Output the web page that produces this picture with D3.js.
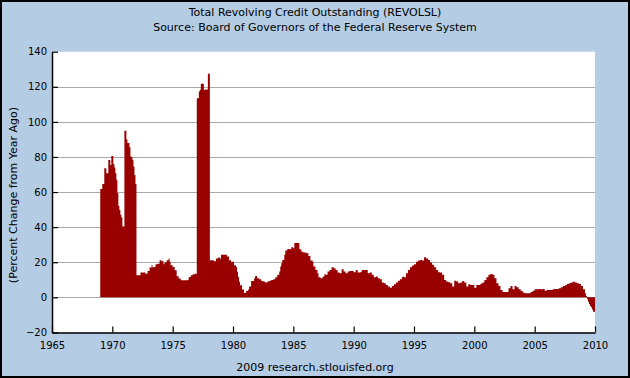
<!DOCTYPE html>
<html><head><meta charset="utf-8">
<script src="https://cdn.jsdelivr.net/npm/d3@7/dist/d3.min.js"></script>
<style>
html,body{margin:0;padding:0;background:#fff;}
svg{display:block;}
text{font-family:"DejaVu Sans",Verdana,sans-serif;fill:#000;}
</style>
</head><body>
<svg id="chart" width="630" height="378"></svg>
<script>
const titleLines = ["Total Revolving Credit Outstanding (REVOLSL)", "Source: Board of Governors of the Federal Reserve System"];
const yAxisTitle = "(Percent Change from Year Ago)";
const footerText = "2009 research.stlouisfed.org";
const yTicks = [-20, 0, 20, 40, 60, 80, 100, 120, 140];
const xTicks = [1965, 1970, 1975, 1980, 1985, 1990, 1995, 2000, 2005, 2010];
const startYear = 1969; // first monthly observation, January 1969

// Monthly percent change from year ago
const values1969to1976 = [
  61.7, 61.7, 64.6, 64.6, 73.5, 73.5, 70.7, 70.7, 78.3, 78.3, 75.4, 80.6,
  80.6, 76, 74, 70.7, 67, 59.3, 52, 49.8, 47, 45.5, 40.3, 40.3,
  95, 95, 90, 88, 88, 85.5, 80.2, 80, 78.3, 74.5, 69.7, 64.6,
  12.6, 12.6, 12.6, 12.6, 14.1, 14.1, 14.1, 14.1, 14.1, 13.5, 13.5, 15,
  15, 17, 17, 18.3, 17, 17.3, 17.3, 18.9, 18.9, 19.2, 19.2, 21.1,
  21.1, 20.6, 20.6, 18.9, 20, 20, 21.1, 21.1, 22.1, 20.2, 18.3, 18.3,
  17.3, 17.3, 15.4, 15.4, 12, 12, 10.7, 10.7, 9.7, 9.7, 9.7, 9.7,
  9.7, 9.7, 9.7, 10, 11.6, 11.6, 12.6, 12.6, 13.1, 13.1, 13.5, 13.5
];
const values1977to1984 = [
  113.5, 113.5, 117.3, 118.3, 121.7, 121.7, 121.7, 118.3, 118.3, 118.5, 118.5, 127.4,
  127.4, 21.1, 21.1, 21.1, 21.1, 20.6, 20.6, 22.1, 22.1, 22.7, 22.7, 22,
  24.2, 24.2, 24.2, 24.2, 24.2, 24.2, 23.2, 23.2, 21.1, 21.1, 20.2, 20.2,
  20.2, 18.3, 18.3, 17.3, 14.5, 11.6, 8.8, 6.9, 6.9, 4.4, 4.4, 2.5,
  2.5, 3.6, 3.6, 4.4, 6.1, 6.1, 9.3, 9.3, 9.3, 10.9, 12.2, 12.2,
  10.9, 10.9, 10.3, 10.3, 9.3, 9.3, 9.0, 9.0, 8.4, 8.4, 9.0, 9.0,
  9.5, 9.5, 9.9, 9.9, 10.3, 10.3, 11.4, 11.4, 12.8, 12.8, 14.7, 17.5,
  19.4, 21.3, 21.3, 24.2, 26.7, 26.7, 27.6, 27.6, 27.4, 27.4, 28.6, 28.6
];
const values1985to1992 = [
  28, 30.9, 30.9, 30.9, 30.9, 30.9, 27.4, 27.4, 25.9, 25.9, 25.5, 25.5,
  25.5, 25.1, 25.1, 23.6, 23.6, 21, 21, 20.4, 17.5, 17.5, 15.6, 15.6,
  13.7, 11.4, 11.4, 10.9, 10.9, 11.4, 12.2, 13.3, 12.8, 12.8, 14.7, 14.7,
  15.6, 15.6, 17.1, 17.1, 16.6, 16.6, 15.6, 15.6, 14.1, 14.1, 13.7, 13.7,
  16, 16, 14.7, 14.7, 13.7, 13.7, 14.7, 14.7, 15, 15, 15, 15,
  14.3, 14.3, 15.6, 15.6, 14.1, 14.1, 14.3, 14.3, 15.6, 15.6, 15.6, 15.6,
  15.6, 15.6, 13.7, 13.7, 14.1, 14.1, 12.8, 12.8, 11.4, 11.4, 11.8, 11.8,
  10.9, 10.9, 10.3, 10.3, 8.4, 8.4, 8, 8, 7, 7, 6.1, 6.1
];
const values1993to2000 = [
  5.5, 5.5, 6.5, 6.5, 7.4, 7.4, 8.4, 8.4, 9.5, 9.5, 10.3, 10.3,
  11.4, 11.8, 11.4, 11.4, 13.7, 13.7, 15.6, 15.6, 17.1, 17.1, 18.1, 18.1,
  18.9, 18.9, 20.2, 20.2, 21, 21, 21.3, 21.3, 21, 21, 22.9, 22.9,
  22.1, 22.1, 21.3, 21.3, 19.8, 19.8, 18.5, 18.5, 17.1, 17.1, 15.6, 15.6,
  14.3, 14.3, 14.1, 14.1, 12.8, 12.8, 9.9, 9.9, 9.0, 9.0, 8.6, 8.6,
  8, 8, 6.1, 6.1, 9.5, 9.5, 9.0, 9.0, 8, 8, 8.4, 8.4,
  9.3, 9.3, 8.4, 8.4, 6.1, 6.1, 7.4, 7.4, 7.0, 7.0, 7.0, 7.0,
  5.5, 5.5, 7, 7, 7, 7, 7.8, 7.8, 8.4, 8.4, 9.9, 9.9
];
const values2001to2009 = [
  11.4, 11.4, 12.8, 12.8, 13.3, 13.3, 12.8, 12.8, 10.9, 10.9, 8, 8,
  6.5, 6.5, 4.2, 4.2, 3, 3, 3, 3, 3, 3, 5.1, 5.1,
  6.5, 6.5, 4.6, 4.6, 6.5, 6.5, 5.7, 5.7, 4.6, 4.6, 3.8, 3.8,
  2.7, 2.7, 2.3, 2.3, 2.3, 2.3, 2.3, 2.3, 3, 3, 3.8, 3.8,
  4.6, 4.6, 4.6, 4.6, 4.8, 4.8, 4.6, 4.6, 4.8, 4.8, 3.8, 3.8,
  4.2, 4.2, 4.2, 4.2, 4.2, 4.2, 4.6, 4.6, 4.8, 4.8, 4.8, 4.8,
  5.1, 5.1, 5.7, 5.7, 6.5, 6.5, 6.9, 6.9, 7.6, 7.6, 8, 8,
  8.4, 8.4, 8.8, 8.8, 8.4, 8.4, 8, 8, 7.6, 7.6, 6.5, 6.5,
  4.6, 4.6, 2.3, 0.8, -1.1, -2.5, -3.8, -5, -5.7, -6.9, -8.2, -8.2
];

const values = [].concat(values1969to1976, values1977to1984, values1985to1992, values1993to2000, values2001to2009);
const data = values.map((v, i) => ({t: startYear + i / 12, v}));

const W = 630, H = 378;
const plot = {left: 52, right: 595, top: 51.7, bottom: 332.4};
const svg = d3.select("#chart");

svg.append("rect").attr("x", 0).attr("y", 0).attr("width", W).attr("height", H).attr("fill", "#b4cce4");
svg.append("rect").attr("x", 1).attr("y", 1).attr("width", W - 2).attr("height", H - 2)
  .attr("fill", "none").attr("stroke", "#000").attr("stroke-width", 2);

const x = d3.scaleLinear().domain([xTicks[0], xTicks[xTicks.length - 1]]).range([plot.left, plot.right]);
const y = d3.scaleLinear().domain([yTicks[0], yTicks[yTicks.length - 1]]).range([plot.bottom, plot.top]);

svg.append("rect").attr("x", plot.left).attr("y", plot.top)
  .attr("width", plot.right - plot.left).attr("height", plot.bottom - plot.top).attr("fill", "#fff");

// grid
svg.append("g").selectAll("line").data(yTicks.slice(1, -1)).join("line")
  .attr("x1", plot.left).attr("x2", plot.right)
  .attr("y1", d => Math.round(y(d)) + 0.5).attr("y2", d => Math.round(y(d)) + 0.5)
  .attr("stroke", "#aaaaaa").attr("stroke-width", 1);

// bars as step area
const stepData = data.concat([{t: data[data.length - 1].t + 1 / 12, v: data[data.length - 1].v}]);
const area = d3.area().x(d => x(d.t)).y0(y(0)).y1(d => y(d.v)).curve(d3.curveStepAfter);
svg.append("path").datum(stepData).attr("d", area).attr("fill", "#990000");

// axes
const yAxis = d3.axisLeft(y).tickValues(yTicks).tickSizeInner(-6).tickSizeOuter(0).tickPadding(5).tickFormat(d3.format("d"));
const gy = svg.append("g").attr("transform", `translate(${plot.left},0)`).call(yAxis);
const xAxis = d3.axisBottom(x).tickValues(xTicks).tickSizeInner(-6).tickSizeOuter(0).tickPadding(10).tickFormat(d3.format("d"));
const gx = svg.append("g").attr("transform", `translate(0,${plot.bottom})`).call(xAxis);
[gx, gy].forEach(g => {
  g.selectAll("path.domain").attr("stroke", "#000").attr("stroke-width", 1.5);
  g.selectAll(".tick line").attr("stroke", "#000").attr("stroke-width", 1.2);
  g.selectAll("text").style("font-family", "'DejaVu Sans', Verdana, sans-serif").style("font-size", "10px").attr("fill", "#000");
});

// titles
svg.append("g").selectAll("text").data(titleLines).join("text")
  .attr("x", W / 2).attr("y", (d, i) => 16 + i * 15).attr("text-anchor", "middle")
  .style("font-size", "11px").text(d => d);

svg.append("text").attr("transform", `translate(17,${(plot.top + plot.bottom) / 2 + 3}) rotate(-90)`)
  .attr("text-anchor", "middle").style("font-size", "11px").text(yAxisTitle);

svg.append("text").attr("x", W / 2).attr("y", 371).attr("text-anchor", "middle")
  .style("font-size", "11px").text(footerText);
</script>
</body></html>
